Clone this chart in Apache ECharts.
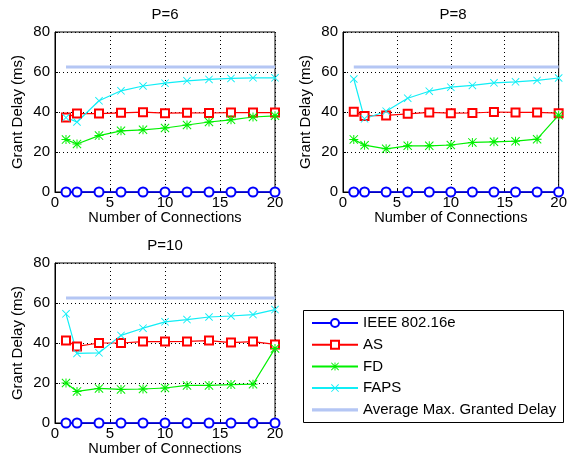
<!DOCTYPE html>
<html>
<head>
<meta charset="utf-8">
<script src="https://cdn.jsdelivr.net/npm/echarts@6/dist/echarts.min.js"></script>
<style>html,body{margin:0;padding:0;background:#fff;}#c{width:570px;height:465px;}</style>
</head>
<body>
<div id="c"></div>
<script>
var connections = [1, 2, 4, 6, 8, 10, 12, 14, 16, 18, 20];
var panelTitles = ['P=6', 'P=8', 'P=10'];
var seriesNames = ['IEEE 802.16e', 'AS', 'FD', 'FAPS', 'Average Max. Granted Delay'];
var xTicks = [0, 5, 10, 15, 20];
var yTicks = [0, 20, 40, 60, 80];

var ieeeP6 = [0, 0, 0, 0, 0, 0, 0, 0, 0, 0, 0];
var asP6 = [37.3, 39.2, 39.2, 39.6, 39.9, 39.4, 39.6, 39.5, 39.7, 39.7, 39.7];
var fdP6 = [26.2, 24.0, 28.2, 30.6, 31.1, 32.0, 33.5, 35.0, 36.1, 37.5, 38.1];
var fapsP6 = [37.2, 35.0, 45.6, 50.6, 53.0, 54.4, 55.6, 56.3, 56.8, 57.1, 57.1];
var avgP6 = [62.5, 62.5];

var ieeeP8 = [0, 0, 0, 0, 0, 0, 0, 0, 0, 0, 0];
var asP8 = [40.1, 38.0, 38.3, 39.1, 39.8, 39.4, 39.5, 40.0, 39.8, 39.8, 39.4];
var fdP8 = [26.3, 23.4, 21.6, 23.1, 23.1, 23.5, 24.8, 25.1, 25.4, 26.4, 38.4];
var fapsP8 = [56.5, 36.6, 40.4, 46.9, 50.4, 52.4, 53.3, 54.6, 55.1, 55.8, 57.0];
var avgP8 = [62.5, 62.5];

var ieeeP10 = [0, 0, 0, 0, 0, 0, 0, 0, 0, 0, 0];
var asP10 = [41.2, 38.3, 40.0, 40.0, 40.7, 40.7, 40.8, 41.2, 40.2, 40.7, 39.3];
var fdP10 = [20.0, 15.8, 17.3, 16.8, 17.0, 17.5, 18.8, 18.8, 19.2, 19.4, 37.3];
var fapsP10 = [54.6, 34.8, 35.1, 43.8, 47.4, 50.6, 51.7, 53.0, 53.5, 54.2, 56.7];
var avgP10 = [62.5, 62.5];
var avgRange = [1, 20];

var panels = [
  {ieee: ieeeP6, as: asP6, fd: fdP6, faps: fapsP6, avg: avgP6},
  {ieee: ieeeP8, as: asP8, fd: fdP8, faps: fapsP8, avg: avgP8},
  {ieee: ieeeP10, as: asP10, fd: fdP10, faps: fapsP10, avg: avgP10}
];

var FONT = 'Liberation Sans, Arial, Helvetica, sans-serif';
var C_IEEE = '#0000ff', C_AS = '#ff0000', C_FD = '#00f000', C_FAPS = '#10eef6', C_AVG = '#b4c6f4';
var starPath = 'path://M0 8.9H20V11.1H0Z M8.9 0H11.1V20H8.9Z M1.6 0L20 18.4L18.4 20L0 1.6Z M18.4 0L20 1.6L1.6 20L0 18.4Z';
var xPath = 'path://M1.6 0L20 18.4L18.4 20L0 1.6Z M18.4 0L20 1.6L1.6 20L0 18.4Z';
var barIcon = 'path://M0 0H46V3.2H0Z';

var grids = [
  {left: 55, top: 32, width: 220, height: 160},
  {left: 343, top: 32, width: 220, height: 160},
  {left: 55, top: 263, width: 220, height: 160}
];

function pairs(xs, ys) { return xs.map(function (x, i) { return [x, ys[i]]; }); }

var option = {
  animation: false,
  backgroundColor: '#fff',
  textStyle: {fontFamily: FONT},
  grid: grids.map(function (g) {
    return Object.assign({show: true, borderColor: '#000', borderWidth: 1, backgroundColor: 'transparent', containLabel: false}, g);
  }),
  xAxis: grids.map(function (g, i) {
    return {
      type: 'value', gridIndex: i, min: 0, max: 20, interval: 5,
      name: 'Number of Connections', nameLocation: 'middle', nameGap: 15,
      nameTextStyle: {fontSize: 14.6, color: '#000', fontFamily: FONT},
      axisLine: {show: true, onZero: false, lineStyle: {color: '#000', width: 1}},
      axisTick: {show: true, inside: true, length: 3, lineStyle: {color: '#000'}},
      axisLabel: {fontSize: 15, color: '#000', margin: 3, fontFamily: FONT,
        formatter: function (v) { return xTicks.indexOf(v) >= 0 ? String(v) : ''; }},
      splitLine: {show: true, lineStyle: {color: '#000', type: [1, 3], width: 1}}
    };
  }),
  yAxis: grids.map(function (g, i) {
    return {
      type: 'value', gridIndex: i, min: 0, max: 80, interval: 20,
      name: 'Grant Delay (ms)', nameLocation: 'middle', nameGap: 30,
      nameTextStyle: {fontSize: 15, color: '#000', fontFamily: FONT},
      axisLine: {show: true, onZero: false, lineStyle: {color: '#000', width: 1}},
      axisTick: {show: true, inside: true, length: 3, lineStyle: {color: '#000'}},
      axisLabel: {fontSize: 15, color: '#000', margin: 5, fontFamily: FONT,
        formatter: function (v) { return yTicks.indexOf(v) >= 0 ? String(v) : ''; }},
      splitLine: {show: true, lineStyle: {color: '#000', type: [1, 3], width: 1}}
    };
  }),
  legend: {
    show: true, orient: 'vertical', left: 311, top: 315.5, padding: 0,
    itemWidth: 46, itemHeight: 10, itemGap: 6.7,
    data: [
      {name: seriesNames[0]},
      {name: seriesNames[1]},
      {name: seriesNames[2]},
      {name: seriesNames[3]},
      {name: seriesNames[4], icon: barIcon}
    ],
    textStyle: {fontSize: 15, color: '#000', fontFamily: FONT, lineHeight: 15}
  },
  graphic: [
    {type: 'rect', shape: {x: 303.5, y: 310.5, width: 260, height: 112}, style: {fill: '#fff', stroke: '#000', lineWidth: 1}, z: -1}
  ].concat(panelTitles.map(function (t, i) {
    return {type: 'text', x: grids[i].left + grids[i].width / 2, y: grids[i].top - 17,
      style: {text: t, textAlign: 'center', textVerticalAlign: 'middle', font: '15px ' + FONT, fill: '#000'}};
  })),
  series: []
};

panels.forEach(function (p, i) {
  option.series.push({
    name: seriesNames[0], type: 'line', xAxisIndex: i, yAxisIndex: i, clip: false,
    data: pairs(connections, p.ieee), symbol: 'emptyCircle', symbolSize: 9,
    lineStyle: {color: C_IEEE, width: 1.6}, itemStyle: {color: C_IEEE, borderColor: C_IEEE, borderWidth: 1.3}
  });
  option.series.push({
    name: seriesNames[1], type: 'line', xAxisIndex: i, yAxisIndex: i, clip: false,
    data: pairs(connections, p.as), symbol: 'emptyRect', symbolSize: 8,
    lineStyle: {color: C_AS, width: 1.2}, itemStyle: {color: C_AS, borderColor: C_AS, borderWidth: 1}
  });
  option.series.push({
    name: seriesNames[2], type: 'line', xAxisIndex: i, yAxisIndex: i, clip: false,
    data: pairs(connections, p.fd), symbol: starPath, symbolSize: 9,
    lineStyle: {color: C_FD, width: 1.2}, itemStyle: {color: C_FD, borderWidth: 0}
  });
  option.series.push({
    name: seriesNames[3], type: 'line', xAxisIndex: i, yAxisIndex: i, clip: false,
    data: pairs(connections, p.faps), symbol: xPath, symbolSize: 8,
    lineStyle: {color: C_FAPS, width: 1.2}, itemStyle: {color: C_FAPS, borderWidth: 0}
  });
  option.series.push({
    name: seriesNames[4], type: 'line', xAxisIndex: i, yAxisIndex: i, clip: false,
    data: pairs(avgRange, p.avg), symbol: 'none', showSymbol: false,
    lineStyle: {color: C_AVG, width: 3.2}, itemStyle: {color: C_AVG}
  });
});

var chart = echarts.init(document.getElementById('c'), null, {renderer: 'canvas'});
chart.setOption(option);
</script>
</body>
</html>
